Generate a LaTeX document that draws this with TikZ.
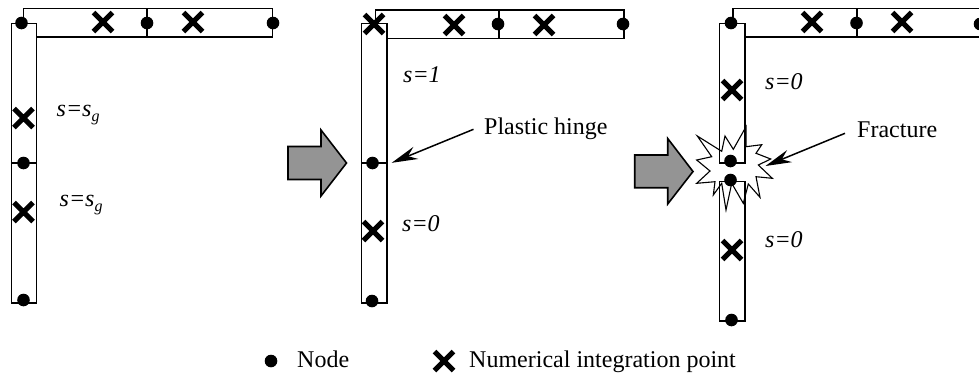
\documentclass[tikz,border=0pt]{standalone}
\usepackage{fontspec}
\setmainfont{Liberation Serif}
\usetikzlibrary{shapes.misc,arrows.meta}
\tikzset{
  beam/.style={draw=black,line width=1.5pt,line join=miter},
  dotnode/.style={circle,fill=black,draw=none,minimum size=12.6pt,inner sep=0pt},
  xmark/.style={cross out,draw=black,line width=5pt,minimum size=14pt,inner sep=0pt},
  lbl/.style={anchor=base west,inner sep=0pt,font=\fontsize{24pt}{26pt}\selectfont},
  ilbl/.style={lbl,font=\fontsize{24pt}{26pt}\selectfont\itshape},
  bigarrow/.style={draw=black,line width=1.6pt,fill=black!42,line join=miter},
  callout/.style={line width=1.5pt,-{Stealth[length=26pt,width=13pt]}},
  burst/.style={draw=black,fill=white,line width=1.1pt,line join=miter}
}
\newcommand{\sgtext}{s=s\raisebox{-5pt}{\fontsize{16pt}{16pt}\selectfont g}}
\begin{document}
\begin{tikzpicture}[x=1pt,y=-1pt]
\useasboundingbox (0,0) rectangle (979,373);
% ---------- frame 1
\draw[beam] (23.5,23) -- (23.5,8.5) -- (272.5,8.5) -- (272.5,37) -- (36.5,37);
\draw[beam] (147,8) -- (147,37);
\draw[beam] (11.5,23.5) rectangle (36.5,303);
\draw[beam] (11.5,163) -- (36.5,163);
\node[dotnode] (a1) at (21.5,23) {};
\node[dotnode] (a2) at (147,23) {};
\node[dotnode] (a3) at (273,23) {};
\node[dotnode] (a4) at (23.5,163) {};
\node[dotnode] (a5) at (23.5,300) {};
\node[xmark] (ax1) at (103,22) {};
\node[xmark] (ax2) at (193,22) {};
\node[xmark] (ax3) at (23.5,118) {};
\node[xmark] (ax4) at (23.5,212) {};
\node[ilbl] (at1) at (56.5,116) {\sgtext};
\node[ilbl] (at2) at (59.5,206) {\sgtext};
% big arrow 1
\draw[bigarrow] (288,146.5) -- (321,146.5) -- (321,130) -- (346.5,163) -- (321,196) -- (321,179.5) -- (288,179.5) -- cycle;
% ---------- frame 2
\draw[beam] (375.5,23) -- (375.5,10) -- (624,10) -- (624,38.5) -- (387,38.5);
\draw[beam] (499,10) -- (499,38.5);
\draw[beam] (361.5,23.5) rectangle (387,303);
\draw[beam] (361.5,163) -- (387,163);
\node[dotnode] (b1) at (372.5,163) {};
\node[dotnode] (b2) at (372,301) {};
\node[dotnode] (b3) at (498,24) {};
\node[dotnode] (b4) at (623,24) {};
\node[xmark] (bx1) at (374,24) {};
\node[xmark] (bx2) at (454,25) {};
\node[xmark] (bx3) at (544,25) {};
\node[xmark] (bx4) at (373,231) {};
\node[ilbl] (bt1) at (403,82) {s=1};
\node[ilbl] (bt2) at (402,231) {s=0};
\node[lbl] (hinge) at (484,134) {Plastic hinge};
\coordinate (hingefrom) at (473.5,129.3);
\coordinate (hingeto) at (391.7,162.8);
\draw[callout] (hingefrom) -- (hingeto);
% big arrow 2
\draw[bigarrow] (634.7,155) -- (667.7,155) -- (667.7,138.5) -- (693,171.5) -- (667.7,204) -- (667.7,187.7) -- (634.7,187.7) -- cycle;
% ---------- frame 3
\draw[burst] (697.3,136) -- (721.7,151.3) -- (725,136) -- (733.3,149.3) -- (746,126.7) -- (746,146.7) -- (761.7,144.7) -- (756,153.3) -- (770.7,159) -- (758.3,165) -- (772.3,178.3) -- (756,176.7) -- (760,197.3) -- (748.3,184) -- (743.3,203.3) -- (731.7,183.3) -- (726,210) -- (721.7,183.3) -- (713.3,195) -- (715,181.7) -- (696.7,183.3) -- (710,171) -- (696.7,160) -- (711.7,156.7) -- cycle;
\draw[beam] (733,23) -- (733,8.5) -- (985,8.5);
\draw[beam] (745,37) -- (985,37);
\draw[beam] (857,8) -- (857,37);
\draw[beam] (719.5,163) -- (719.5,23.5) -- (745,23.5) -- (745,163) -- cycle;
\draw[beam] (719.5,181.5) -- (719.5,321) -- (745,321) -- (745,181.5) -- cycle;
\node[dotnode] (c1) at (731,23) {};
\node[dotnode] (c2) at (856.5,23) {};
\node[dotnode] (c3) at (980,24) {};
\node[dotnode] (c4) at (730.5,161) {};
\node[dotnode] (c5) at (730.5,180) {};
\node[dotnode] (c6) at (731.5,320) {};
\node[xmark] (cx1) at (812,22) {};
\node[xmark] (cx2) at (902,22) {};
\node[xmark] (cx3) at (732,90) {};
\node[xmark] (cx4) at (732,250) {};
\node[ilbl] (ct1) at (765,89) {s=0};
\node[ilbl] (ct2) at (765,247) {s=0};
\node[lbl] (frac) at (857,137.7) {Fracture};
\coordinate (fracfrom) at (845,133.3);
\coordinate (fracto) at (765.5,166);
\draw[callout] (fracfrom) -- (fracto);
% ---------- legend
\node[dotnode] (ln) at (271,361) {};
\node[lbl] (lnt) at (297,367) {Node};
\node[xmark] (lx) at (444,361) {};
\node[lbl] (lxt) at (469,367) {Numerical integration point};
\end{tikzpicture}
\end{document}
